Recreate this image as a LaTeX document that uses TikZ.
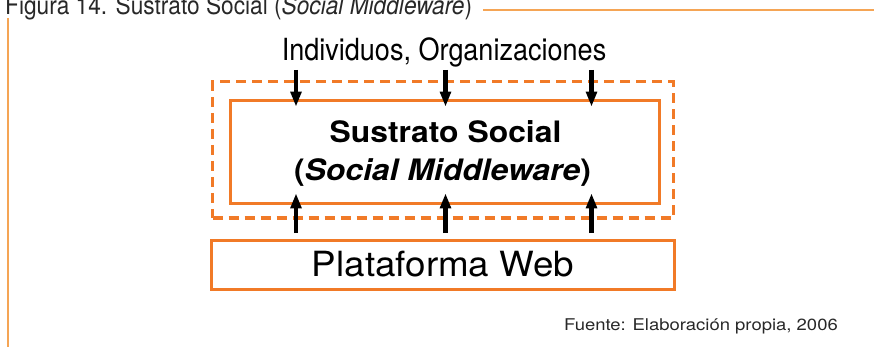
\documentclass[tikz,border=0pt]{standalone}
\usepackage{fontspec}
\setmainfont{TeX Gyre Heros}
\usetikzlibrary{arrows.meta}
\definecolor{orng}{RGB}{241,122,39}
\definecolor{lorng}{RGB}{245,165,85}
\definecolor{txtgray}{RGB}{40,40,40}
\tikzset{
  boxline/.style={draw=orng, line width=3pt, inner sep=0},
  flowarrow/.style={line width=4.5pt, -{Triangle[length=15pt,width=10.5pt]}},
  framerule/.style={lorng, line width=1.4pt},
  txt/.style={inner sep=0, anchor=base},
}
\begin{document}
\begin{tikzpicture}[x=1pt,y=-1pt]
\useasboundingbox (0,0) rectangle (874,347);
% frame lines
\node[txt, anchor=base west, text=txtgray, font=\fontsize{25.5}{28}\selectfont] (title) at (5,14.3) {\scalebox{0.89}[1]{Figura 14. Sustrato Social (\textit{Social Middleware})}};
\coordinate (tl1) at (483,10);
\coordinate (tl2) at (874,10);
\draw[framerule] (tl1) -- (tl2);
\coordinate (vl1) at (8,18);
\coordinate (vl2) at (8,347);
\draw[framerule] (vl1) -- (vl2);
% top label
\node[txt, font=\fontsize{30.5}{34}\selectfont] (ind) at (444,60.5) {\scalebox{0.887}[1]{Individuos, Organizaciones}};
% dashed box
\node[boxline, dash pattern=on 10pt off 6pt, minimum width=460.6pt, minimum height=136pt] (dash) at (443,150) {};
% inner box
\node[boxline, minimum width=429pt, minimum height=103.3pt] (sus) at (444.5,152.3) {};
\node[txt, font=\bfseries\fontsize{29.5}{32}\selectfont] (sus1) at (445.5,142.3) {\scalebox{1.08}[1]{Sustrato Social}};
\node[txt, font=\bfseries\fontsize{29.5}{32}\selectfont] (sus2) at (442.5,180.7) {\scalebox{1.08}[1]{(\textit{Social Middleware})}};
% plataforma box
\node[boxline, minimum width=463pt, minimum height=49pt] (plat) at (442.5,264.5) {};
\node[txt, font=\fontsize{34.7}{38}\selectfont] (platt) at (443,276.7) {\scalebox{1.06}[1]{Plataforma Web}};
% fuente
\node[txt, anchor=base east, text=txtgray, font=\fontsize{16.2}{18}\selectfont] (fuente) at (838,330) {\scalebox{1.14}[1]{Fuente: Elaboración propia, 2006}};
% arrows
\foreach \n/\x in {a/296,b/445.5,c/591.5}{
  \coordinate (top\n) at (\x,70);
  \coordinate (tip\n) at (\x,106.7);
  \draw[flowarrow] (top\n) -- (tip\n);
  \coordinate (bot\n) at (\x,233);
  \coordinate (up\n) at (\x,193.3);
  \draw[flowarrow] (bot\n) -- (up\n);
}
\end{tikzpicture}
\end{document}
